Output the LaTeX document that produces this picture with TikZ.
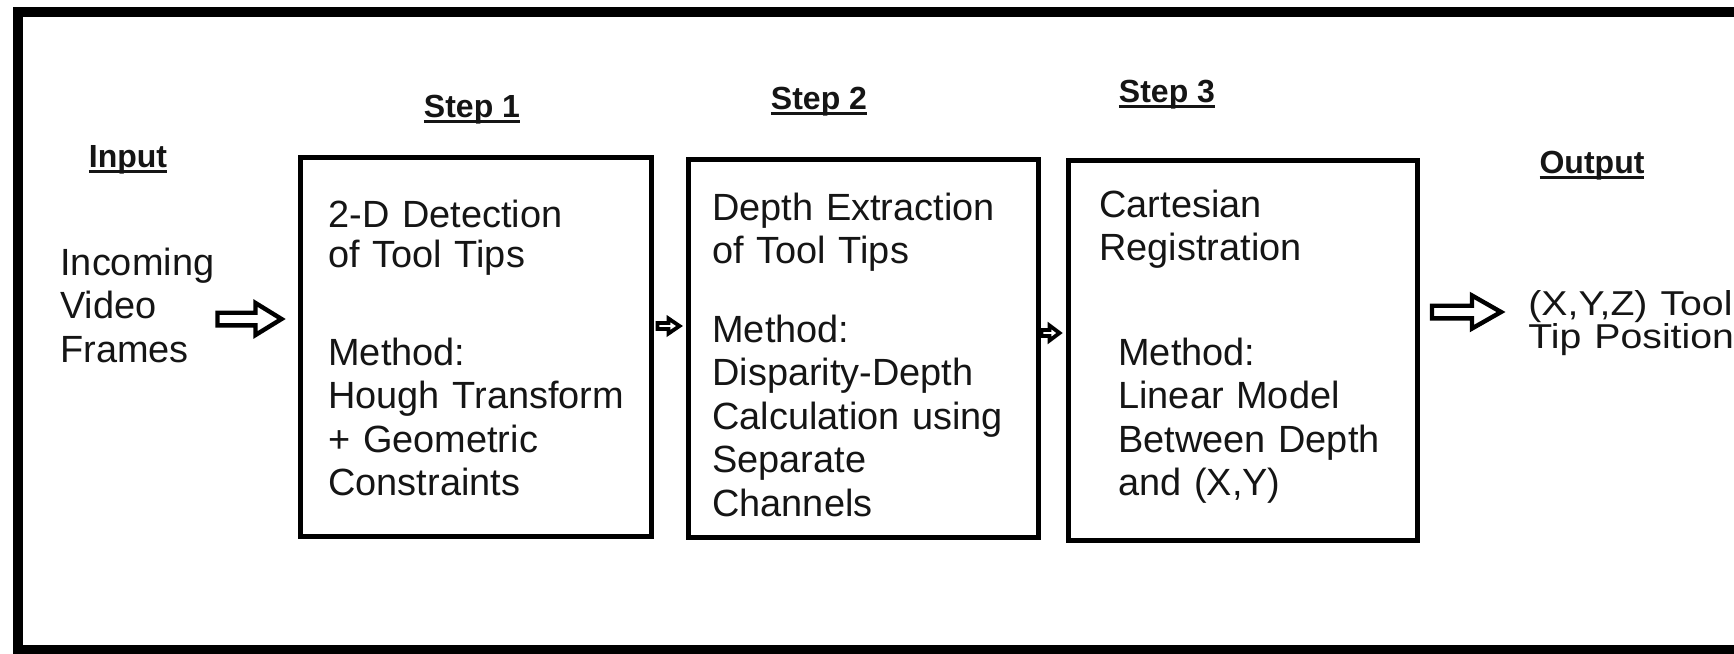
\documentclass[tikz,border=0pt]{standalone}
\usepackage{fontspec}
\usepackage{graphicx}
\setmainfont{Liberation Sans}

\definecolor{ink}{HTML}{151515}
% bold heading with a rule drawn just under the baseline
\newcommand\hdr[1]{\setbox0\hbox{\bfseries #1}\rlap{\rule[-3pt]{\wd0}{1.3pt}}\box0}
\newcommand\squashline[1]{\scalebox{1}[0.88]{#1}}
% outlined block arrow pointing right:
% [style] {tip} {total length} {head length} {head half-width} {shaft half-width}
\newcommand\hollowarr[6][]{%
  \draw[arrowline,#1] (#2) -- ++({-#4},{-#5}) -- ++(0,{#5-#6}) -- ++({#4-#3},0)
    -- ++(0,{2*#6}) -- ++({#3-#4},0) -- ++(0,{#5-#6}) -- cycle;}

\tikzset{
  frame/.style={line width=5pt},
  stage/.style={draw, rectangle, line width=2.5pt, inner sep=0pt},
  body/.style={inner sep=0pt, anchor=base west, text width=210pt, align=left,
    text=ink, font=\fontsize{18.95pt}{21.75pt}\selectfont},
  heading/.style={inner sep=0pt, anchor=base, text=ink,
    font=\fontsize{16pt}{19pt}\selectfont},
  arrowline/.style={draw=black, fill=white, line width=2.2pt, line join=miter},
  thinarrow/.style={line width=1.9pt}
}

\begin{document}
\begin{tikzpicture}[x=0.5pt, y=-0.5pt]
  \clip (0,0) rectangle (1734,653);
  \fill[white] (0,0) rectangle (1734,653);

  % outer frame, open past the right border
  \draw[frame] (18,11.5) rectangle (1800,650);

  % the three processing stages
  \node[stage, minimum width=175.5pt, minimum height=189.5pt] (b1) at (475.5,346.5) {};
  \node[stage, minimum width=175pt,   minimum height=189pt]   (b2) at (863,348) {};
  \node[stage, minimum width=174.5pt, minimum height=190pt]   (b3) at (1242.5,350) {};

  % headings
  \node[heading] (hin)  at (128,167)  {\hdr{Input}};
  \node[heading] (hs1)  at (472,117)  {\hdr{Step 1}};
  \node[heading] (hs2)  at (819,109)  {\hdr{Step 2}};
  \node[heading] (hs3)  at (1167,102) {\hdr{Step 3}};
  \node[heading] (hout) at (1592,173) {\hdr{Output}};

  % input and output texts
  \node[body] (in) at (60,275) {Incoming\\Video\\Frames};
  \node[body, font=\fontsize{19.6pt}{16.5pt}\selectfont] (out) at (1528,315)
    {\squashline{(X,Y,Z) Tool}\\\squashline{Tip Position}};

  % stage texts
  \node[body] (t1) at (328,227) {2-D Detection\\[-1.75pt]of Tool Tips};
  \node[body] (m1) at (328,365) {Method:\\Hough Transform\\+ Geometric\\Constraints};
  \node[body] (t2) at (712,220) {Depth Extraction\\of Tool Tips};
  \node[body] (m2) at (712,342) {Method:\\Disparity-Depth\\Calculation using\\Separate\\Channels};
  \node[body] (t3) at (1099,217) {Cartesian\\Registration};
  \node[body] (m3) at (1118,365) {Method:\\Linear Model\\Between Depth\\and (X,Y)};

  % tips of the arrows, taken from the parts they point at
  \coordinate (y0) at (0,319);
  \coordinate (y1) at (0,326);
  \coordinate (y2) at (0,333);
  \coordinate (y3) at (0,312);
  \path (b1.west |- y0) ++(-16,0) coordinate (tip0);
  \path (b2.west |- y1) ++(-6,0)  coordinate (tip1);
  \path (b3.west |- y2) ++(-6,0)  coordinate (tip2);
  \path (out.base west |- y3) ++(-27,0) coordinate (tip3);

  % hollow arrows between the parts
  \hollowarr{tip0}{64}{26}{16}{6.3}
  \hollowarr[thinarrow]{tip1}{22}{11}{7.5}{3}
  \hollowarr[thinarrow]{tip2}{18}{10}{7.5}{3}
  \hollowarr{tip3}{69}{29}{16.5}{6.3}
\end{tikzpicture}
\end{document}
